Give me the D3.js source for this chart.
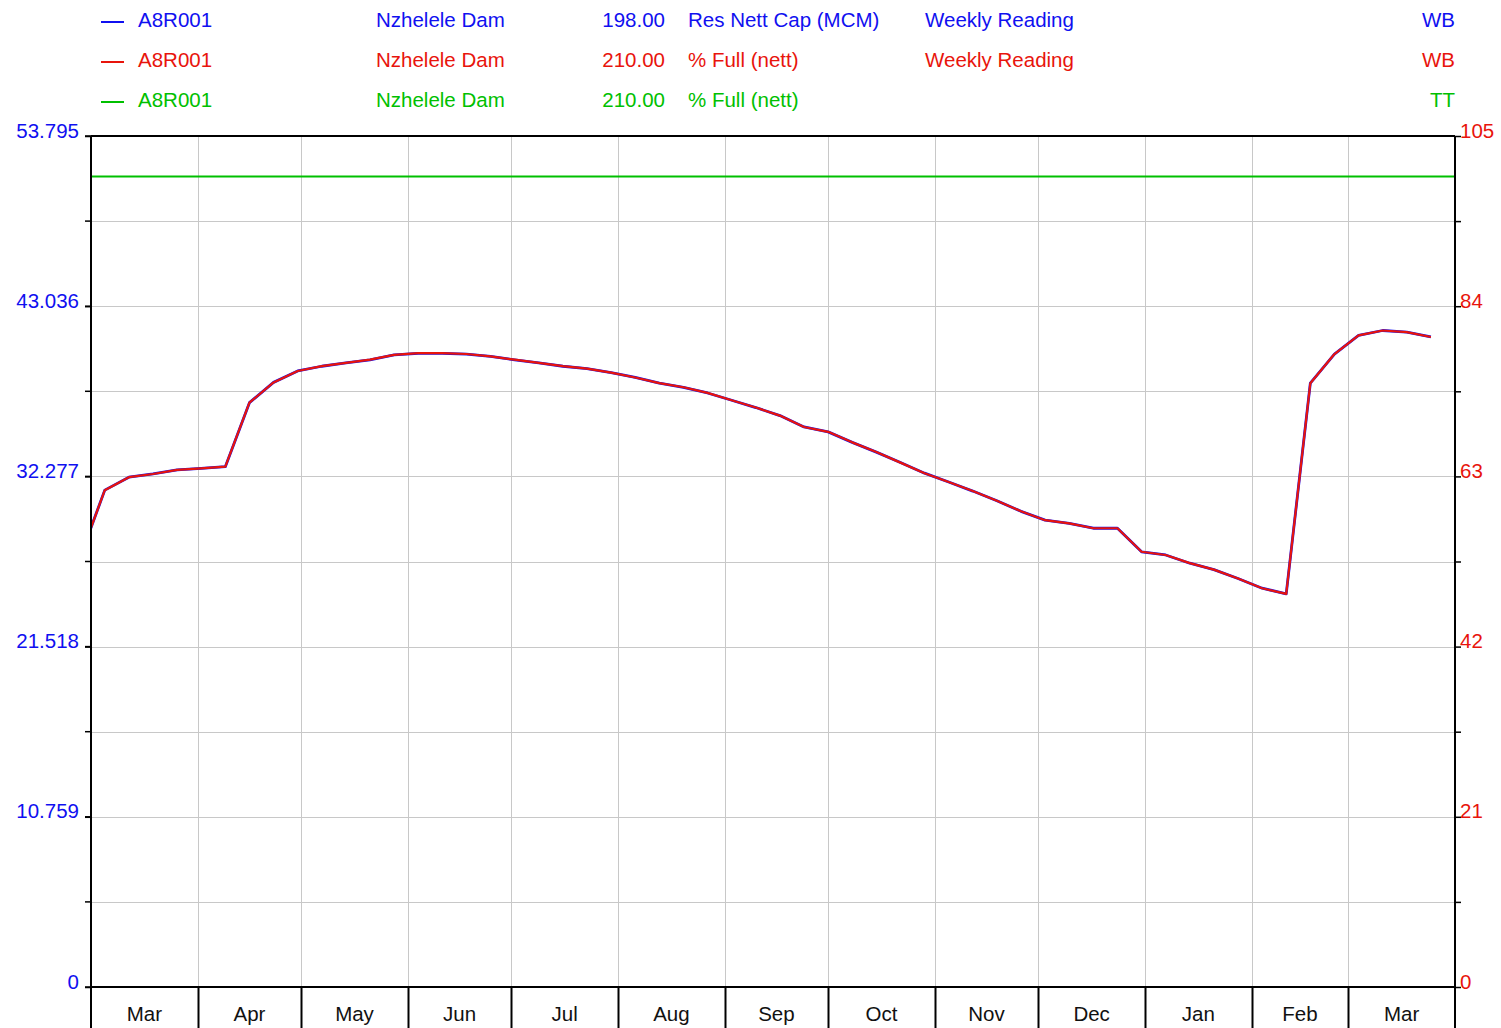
<!DOCTYPE html>
<html>
<head>
<meta charset="utf-8">
<script src="https://cdn.jsdelivr.net/npm/d3@7"></script>
<style>
  body { margin: 0; background: #fff; }
  svg { display: block; font-family: "Liberation Sans", Arial, sans-serif; }
</style>
</head>
<body>
<div id="chart"></div>
<script>
// legend table
var legendCodes   = ["A8R001", "A8R001", "A8R001"];
var legendSites   = ["Nzhelele Dam", "Nzhelele Dam", "Nzhelele Dam"];
var legendCaps    = ["198.00", "210.00", "210.00"];
var legendUnits   = ["Res Nett Cap (MCM)", "% Full (nett)", "% Full (nett)"];
var legendTypes   = ["Weekly Reading", "Weekly Reading", ""];
var legendSources = ["WB", "WB", "TT"];
var seriesColors  = ["#1010f0", "#e8140c", "#00c000"];

// axes
var xDomain = ["2018-03-01", "2019-04-01"];
var leftTicks  = [0, 10.759, 21.518, 32.277, 43.036, 53.795];
var rightTicks = [0, 21, 42, 63, 84, 105];

// weekly readings
var readDates = ["2018-02-26",
  "2018-03-05","2018-03-12","2018-03-19","2018-03-26","2018-04-02","2018-04-09","2018-04-16","2018-04-23","2018-04-30",
  "2018-05-07","2018-05-14","2018-05-21","2018-05-28","2018-06-04","2018-06-11","2018-06-18","2018-06-25",
  "2018-07-02","2018-07-09","2018-07-16","2018-07-23","2018-07-30","2018-08-06","2018-08-13","2018-08-20","2018-08-27",
  "2018-09-03","2018-09-10","2018-09-17","2018-09-24","2018-10-01","2018-10-08","2018-10-15","2018-10-22","2018-10-29",
  "2018-11-05","2018-11-12","2018-11-19","2018-11-26","2018-12-03","2018-12-10","2018-12-17","2018-12-24","2018-12-31",
  "2019-01-07","2019-01-14","2019-01-21","2019-01-28","2019-02-04","2019-02-11","2019-02-18","2019-02-25",
  "2019-03-04","2019-03-11","2019-03-18","2019-03-25"];

var pctFull = [53.2,
  61.3, 62.9, 63.3, 63.8, 64.0, 64.2, 72.1, 74.6, 76.0,
  76.6, 77.0, 77.4, 78.0, 78.2, 78.2, 78.1, 77.8,
  77.4, 77.0, 76.6, 76.3, 75.8, 75.2, 74.5, 74.0, 73.3,
  72.4, 71.5, 70.5, 69.1, 68.5, 67.2, 66.0, 64.7, 63.4,
  62.3, 61.2, 60.0, 58.7, 57.6, 57.2, 56.6, 56.6, 53.7,
  53.3, 52.3, 51.5, 50.4, 49.2, 48.5, 74.5, 78.1,
  80.4, 81.0, 80.8, 80.2];

var volumeMCM = [27.26,
  31.41, 32.23, 32.43, 32.69, 32.79, 32.89, 36.94, 38.22, 38.94,
  39.24, 39.45, 39.65, 39.96, 40.06, 40.06, 40.01, 39.86,
  39.65, 39.45, 39.24, 39.09, 38.83, 38.53, 38.17, 37.91, 37.55,
  37.09, 36.63, 36.12, 35.40, 35.09, 34.43, 33.81, 33.15, 32.48,
  31.92, 31.35, 30.74, 30.07, 29.51, 29.31, 29.00, 29.00, 27.51,
  27.31, 26.79, 26.38, 25.82, 25.21, 24.85, 38.17, 40.01,
  41.19, 41.50, 41.40, 41.09];

var targetDates = ["2018-03-01", "2019-04-01"];
var targetPct = [100, 100];

var W = 1501, H = 1028;
var pLeft = 91, pRight = 1455, pTop = 136, pBottom = 987;
var fs = 20.5;

var parse = d3.utcParse("%Y-%m-%d");

var svg = d3.select("#chart").append("svg")
  .attr("width", W)
  .attr("height", H);

var x = d3.scaleUtc()
  .domain(xDomain.map(parse))
  .range([pLeft, pRight]);

var yL = d3.scaleLinear().domain([0, 53.795]).range([pBottom, pTop]);
var yR = d3.scaleLinear().domain([0, 105]).range([pBottom, pTop]);

var gridVals = d3.range(0, 106, 10.5);
var months = d3.utcMonth.range(x.domain()[0], x.domain()[1]);

// grid
svg.append("g").selectAll("line")
  .data(gridVals)
  .enter().append("line")
    .attr("x1", pLeft).attr("x2", pRight)
    .attr("y1", function(d) { return Math.round(yR(d)) + 0.5; })
    .attr("y2", function(d) { return Math.round(yR(d)) + 0.5; })
    .attr("stroke", "#c8c8c8").attr("stroke-width", 1);

svg.append("g").selectAll("line")
  .data(months.slice(1))
  .enter().append("line")
    .attr("x1", function(d) { return Math.round(x(d)) + 0.5; })
    .attr("x2", function(d) { return Math.round(x(d)) + 0.5; })
    .attr("y1", pTop).attr("y2", pBottom)
    .attr("stroke", "#c8c8c8").attr("stroke-width", 1);

// lines
svg.append("clipPath").attr("id", "plot")
  .append("rect").attr("x", pLeft).attr("y", pTop)
  .attr("width", pRight - pLeft).attr("height", pBottom - pTop);

var lineL = d3.line()
  .x(function(d, i) { return x(parse(readDates[i])); })
  .y(function(d) { return yL(d); });
var lineR = d3.line()
  .x(function(d, i) { return x(parse(readDates[i])); })
  .y(function(d) { return yR(d); });
var lineT = d3.line()
  .x(function(d, i) { return x(parse(targetDates[i])); })
  .y(function(d) { return yR(d); });

var plot = svg.append("g").attr("clip-path", "url(#plot)");

plot.append("path").datum(targetPct)
  .attr("d", lineT).attr("fill", "none")
  .attr("stroke", seriesColors[2]).attr("stroke-width", 2);

plot.append("path").datum(volumeMCM)
  .attr("d", lineL).attr("fill", "none")
  .attr("stroke", seriesColors[0]).attr("stroke-width", 2.8)
  .attr("stroke-linejoin", "round");

plot.append("path").datum(pctFull)
  .attr("d", lineR).attr("fill", "none")
  .attr("stroke", seriesColors[1]).attr("stroke-width", 2.2)
  .attr("stroke-linejoin", "round");

// axes
var axL = svg.append("g")
  .attr("transform", "translate(" + pLeft + ",0)")
  .call(d3.axisLeft(yL).tickValues(leftTicks).tickSize(6).tickPadding(6)
    .tickFormat(function(d) { return d === 0 ? "0" : d3.format(".3f")(d); }));
var axR = svg.append("g")
  .attr("transform", "translate(" + pRight + ",0)")
  .call(d3.axisRight(yR).tickValues(gridVals).tickSize(6).tickPadding(-1)
    .tickFormat(function(d) { return rightTicks.indexOf(d) >= 0 ? d : ""; }));

// minor ticks on left
svg.append("g").selectAll("line")
  .data(gridVals)
  .enter().append("line")
    .attr("x1", pLeft - 6).attr("x2", pLeft)
    .attr("y1", function(d) { return yR(d); })
    .attr("y2", function(d) { return yR(d); })
    .attr("stroke", "#000").attr("stroke-width", 1.5);

[axL, axR].forEach(function(a, k) {
  a.select(".domain").remove();
  a.selectAll(".tick line").attr("stroke", "#000").attr("stroke-width", 1.5);
  a.selectAll("text")
    .attr("dy", 1)
    .attr("font-size", fs)
    .attr("font-family", "Liberation Sans, Arial, sans-serif")
    .attr("fill", k === 0 ? seriesColors[0] : seriesColors[1]);
});

// frame
svg.append("line").attr("x1", pLeft).attr("x2", pRight).attr("y1", pTop).attr("y2", pTop)
  .attr("stroke", "#000").attr("stroke-width", 2);
svg.append("line").attr("x1", pLeft).attr("x2", pRight).attr("y1", pBottom).attr("y2", pBottom)
  .attr("stroke", "#000").attr("stroke-width", 2);
svg.append("line").attr("x1", pLeft).attr("x2", pLeft).attr("y1", pTop).attr("y2", H)
  .attr("stroke", "#000").attr("stroke-width", 2);
svg.append("line").attr("x1", pRight).attr("x2", pRight).attr("y1", pTop).attr("y2", H)
  .attr("stroke", "#000").attr("stroke-width", 2);

// month separators and labels
svg.append("g").selectAll("line")
  .data(months.slice(1))
  .enter().append("line")
    .attr("x1", function(d) { return Math.round(x(d)) + 0.5; })
    .attr("x2", function(d) { return Math.round(x(d)) + 0.5; })
    .attr("y1", pBottom).attr("y2", H)
    .attr("stroke", "#000").attr("stroke-width", 2);

svg.append("g").selectAll("text")
  .data(months)
  .enter().append("text")
    .attr("x", function(d) { return (x(d) + x(d3.utcMonth.offset(d, 1))) / 2; })
    .attr("y", 1021)
    .attr("text-anchor", "middle")
    .attr("font-size", fs)
    .attr("fill", "#111")
    .text(function(d) { return d3.utcFormat("%b")(d); });

// legend
var rows = svg.append("g").selectAll("g")
  .data(legendCodes)
  .enter().append("g")
    .attr("transform", function(d, i) { return "translate(0," + (27 + i * 40) + ")"; })
    .attr("font-size", fs)
    .attr("fill", function(d, i) { return seriesColors[i]; });

rows.append("line")
  .attr("x1", 101).attr("x2", 124).attr("y1", -5).attr("y2", -5)
  .attr("stroke", function(d, i) { return seriesColors[i]; })
  .attr("stroke-width", 2);
rows.append("text").attr("x", 138).text(function(d) { return d; });
rows.append("text").attr("x", 376).text(function(d, i) { return legendSites[i]; });
rows.append("text").attr("x", 665).attr("text-anchor", "end").text(function(d, i) { return legendCaps[i]; });
rows.append("text").attr("x", 688).text(function(d, i) { return legendUnits[i]; });
rows.append("text").attr("x", 925).text(function(d, i) { return legendTypes[i]; });
rows.append("text").attr("x", 1455).attr("text-anchor", "end").text(function(d, i) { return legendSources[i]; });
</script>
</body>
</html>
